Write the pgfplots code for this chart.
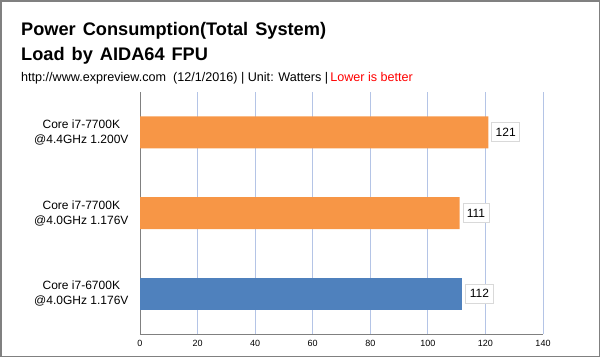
\documentclass[border=0pt]{standalone}
\usepackage{pgfplots}
\pgfplotsset{compat=1.18}
\usepackage{fontspec}
\setmainfont{Liberation Sans}
\definecolor{barorange}{RGB}{247,150,70}
\definecolor{barblue}{RGB}{79,129,189}
\definecolor{gridblue}{RGB}{180,196,230}
\definecolor{framegray}{RGB}{128,128,128}
\definecolor{boxgray}{RGB}{217,217,217}
\begin{document}
\begin{tikzpicture}
\draw[framegray, line width=1.5pt] (0.75pt,-0.75pt) rectangle (599.25pt,-356.25pt);
\node[anchor=base west, inner sep=0pt, font=\fontsize{18.2}{20}\selectfont\bfseries] at (21pt,-35pt) {\spaceskip=7pt Power Consumption(Total System)};
\node[anchor=base west, inner sep=0pt, font=\fontsize{18.2}{20}\selectfont\bfseries] at (21pt,-60pt) {\spaceskip=7pt Load by AIDA64 FPU};
\node[anchor=base west, inner sep=0pt, font=\fontsize{12.6}{14}\selectfont] at (21pt,-81pt) {http://www.expreview.com\ \ (12/1/2016) | Unit: Watters |\,\textcolor{red}{Lower is better}};
\begin{axis}[
  at={(140pt,-334pt)}, anchor=south west,
  scale only axis, width=403pt, height=242pt,
  xbar, bar width=32pt, bar shift=0pt,
  xmin=0, xmax=140, ymin=-0.5, ymax=2.5,
  xtick={0,20,40,60,80,100,120,140},
  ytick={0,1,2},
  yticklabels={{Core i7-6700K\\@4.0GHz 1.176V},{Core i7-7700K\\@4.0GHz 1.176V},{Core i7-7700K\\@4.4GHz 1.200V}},
  yticklabel style={align=center, font=\fontsize{12}{15}\selectfont, xshift=-8pt},
  xticklabel style={font=\fontsize{9}{10}\selectfont, yshift=-3pt},
  /pgf/number format/assume math mode=true,
  major tick length=0pt,
  axis x line*=bottom, axis y line*=left,
  axis line style={framegray, line width=1pt, -},
  xmajorgrids, major grid style={gridblue, line width=0.8pt},
  nodes near coords,
  every node near coord/.append style={anchor=west, xshift=3pt, draw=boxgray, fill=white, line width=0.8pt, font=\fontsize{12}{14}\selectfont, inner xsep=4pt, inner ysep=3pt, minimum height=19pt, text=black},
]
\addplot[fill=barorange, draw=none] coordinates {(121,2) (111,1)};
\addplot[fill=barblue, draw=none] coordinates {(112,0)};
\end{axis}
\end{tikzpicture}
\end{document}
